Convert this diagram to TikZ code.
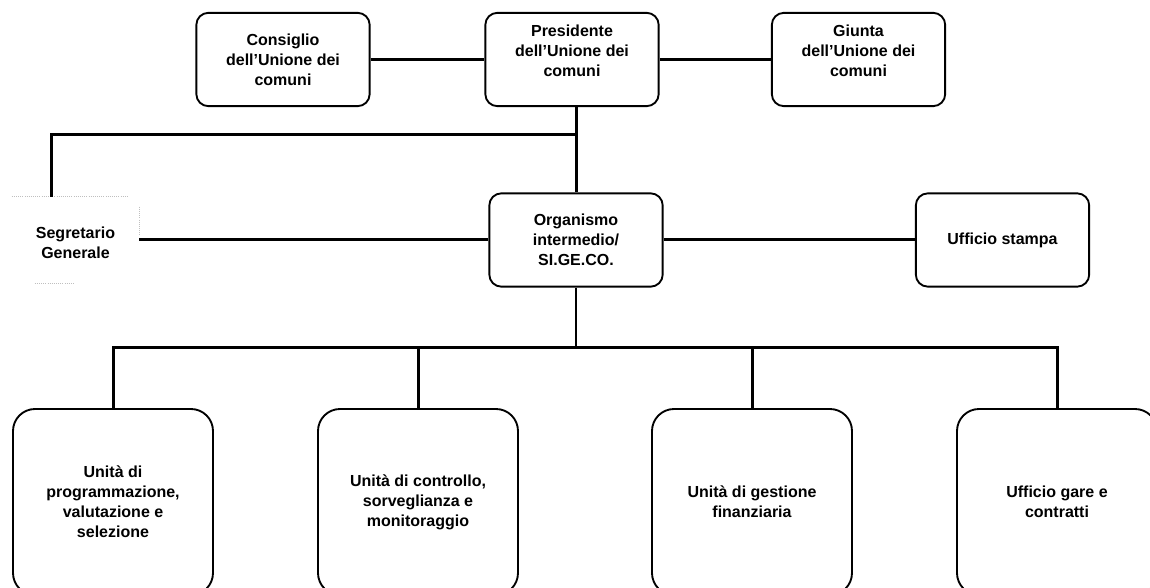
\documentclass[tikz,border=0pt]{standalone}
\usepackage{fontspec}
\setmainfont{Liberation Sans}
\usetikzlibrary{calc}
\newcommand{\liftup}[1]{\raisebox{0pt}[\height][\dimexpr\depth+10.5pt\relax]{\begin{tabular}{@{}c@{}}#1\end{tabular}}}
\newcommand{\segtext}[1]{\raisebox{0pt}[\dimexpr\height+6.75pt\relax][\depth]{\begin{tabular}{@{}c@{}}#1\end{tabular}}\hspace{34.5pt}}
\tikzset{
  txt/.style={font=\fontsize{12}{15}\selectfont\bfseries},
  unit/.style={txt, draw, line width=1.4pt, rounded corners=9pt, minimum width=130pt, minimum height=70pt, inner sep=2pt, align=center},
  unitlift/.style={txt, draw, line width=1.4pt, rounded corners=9pt, minimum width=130pt, minimum height=70pt, inner sep=2pt},
  bigunit/.style={txt, draw, line width=1.4pt, rounded corners=16.5pt, minimum width=150pt, minimum height=139.5pt, inner sep=2pt, align=center},
  segbox/.style={txt, minimum width=95.25pt, minimum height=64.5pt, inner sep=0pt},
  conn/.style={line width=2.25pt},
  thinconn/.style={line width=1pt},
  ghost/.style={draw=black!25, line width=0.6pt, densely dotted}
}
\begin{document}
\begin{tikzpicture}[x=0.75pt,y=-0.75pt]
\fill[white] (0,0) rectangle (1150,588);
\useasboundingbox (0,0) rectangle (1150,588);
\clip (0,0) rectangle (1150,588);

% top row
\node[unit] (cons) at (283,59.5) {Consiglio\\dell’Unione dei\\comuni};
\node[unitlift] (pres) at (572,59.5) {\liftup{Presidente\\dell’Unione dei\\comuni}};
\node[unitlift] (giunta) at (858.5,59.5) {\liftup{Giunta\\dell’Unione dei\\comuni}};

% middle row
\node[segbox] (seg) at (75.5,240) {\segtext{Segretario\\Generale}};
\node[unit] (org) at (576,240) {Organismo\\intermedio/\\SI.GE.CO.};
\node[unit] (stampa) at (1002.5,240) {Ufficio stampa};

% bottom row
\node[bigunit] (b1) at (113,502) {Unità di\\programmazione,\\valutazione e\\selezione};
\node[bigunit] (b2) at (418,502) {Unità di controllo,\\sorveglianza e\\monitoraggio};
\node[bigunit] (b3) at (752,502) {Unità di gestione\\finanziaria};
\node[bigunit] (b4) at (1057,502) {Ufficio gare e\\contratti};

% faint remains of the Segretario box
\draw[ghost] (seg.north west) -- ($(seg.north east)+(-11,0)$);
\draw[ghost] ($(seg.north east)+(0,10)$) -- ($(seg.east)+(0,-5)$);
\draw[ghost] ($(seg.south west)+(23,0)$) -- ++(40,0);

% connectors
\coordinate (segtop) at ($(seg.north west)+(40,0)$);
\coordinate (j1) at (org.north |- 0,135);
\coordinate (bus) at (org.south |- 0,347);

\draw[conn] (cons) -- (pres);
\draw[conn] (pres) -- (giunta);
\draw[conn] (pres.south -| org.north) -- (org.north);
\draw[conn] (j1) -| (segtop);
\draw[conn] (seg.east) -- (org.west);
\draw[conn] (org) -- (stampa);
\draw[thinconn] (org.south) -- (bus);
\draw[conn] (b1.north) |- (bus) -| (b4.north);
\draw[conn] (b2.north) -- (b2.north |- bus);
\draw[conn] (b3.north) -- (b3.north |- bus);
\end{tikzpicture}
\end{document}
